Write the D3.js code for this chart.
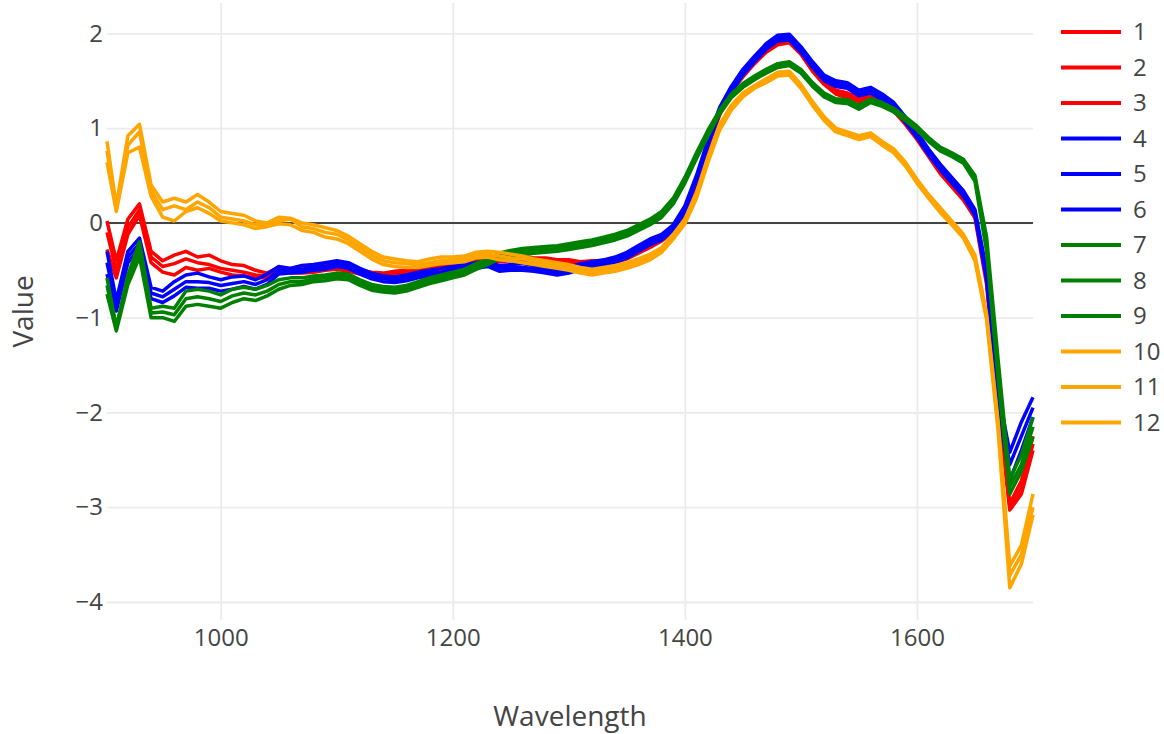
<!DOCTYPE html>
<html>
<head>
<meta charset="utf-8">
<script src="https://cdn.jsdelivr.net/npm/d3@7"></script>
<style>
body { margin: 0; background: #fff; }
text { font-family: "Open Sans", sans-serif; fill: #444; }
</style>
</head>
<body>
<svg id="drawing_region"></svg>
<script>
const wavelengths = [
    902, 910, 920, 930, 940, 950, 960, 970, 980, 990,
    1000, 1010, 1020, 1030, 1040, 1050, 1060, 1070, 1080, 1090,
    1100, 1110, 1120, 1130, 1140, 1150, 1160, 1170, 1180, 1190,
    1200, 1210, 1220, 1230, 1240, 1250, 1260, 1270, 1280, 1290,
    1300, 1310, 1320, 1330, 1340, 1350, 1360, 1370, 1380, 1390,
    1400, 1410, 1420, 1430, 1440, 1450, 1460, 1470, 1480, 1490,
    1500, 1510, 1520, 1530, 1540, 1550, 1560, 1570, 1580, 1590,
    1600, 1610, 1620, 1630, 1640, 1650, 1660, 1670, 1680, 1690,
    1700
];

const labels = ['1', '2', '3', '4', '5', '6', '7', '8', '9', '10', '11', '12'];
const xTicks = [1000, 1200, 1400, 1600];
const yTicks = [-4, -3, -2, -1, 0, 1, 2];

const s1 = [
    0.02, -0.40, 0.04, 0.20, -0.30, -0.40, -0.34, -0.30, -0.36, -0.34,
    -0.40, -0.44, -0.45, -0.50, -0.53, -0.47, -0.48, -0.46, -0.47, -0.44,
    -0.42, -0.46, -0.50, -0.52, -0.53, -0.51, -0.50, -0.47, -0.47, -0.44,
    -0.44, -0.41, -0.39, -0.36, -0.38, -0.36, -0.35, -0.37, -0.37, -0.39,
    -0.39, -0.41, -0.40, -0.40, -0.37, -0.34, -0.27, -0.22, -0.15, -0.06,
    0.08, 0.40, 0.84, 1.18, 1.42, 1.58, 1.72, 1.84, 1.92, 1.94,
    1.82, 1.64, 1.50, 1.40, 1.37, 1.32, 1.35, 1.29, 1.22, 1.07,
    0.92, 0.73, 0.57, 0.41, 0.28, 0.09, -0.55, -1.82, -2.96, -2.72,
    -2.25
];
const s2 = [
    -0.10, -0.50, -0.05, 0.14, -0.36, -0.46, -0.43, -0.38, -0.42, -0.44,
    -0.48, -0.50, -0.52, -0.55, -0.56, -0.50, -0.51, -0.49, -0.50, -0.47,
    -0.46, -0.48, -0.52, -0.54, -0.56, -0.54, -0.52, -0.50, -0.49, -0.47,
    -0.46, -0.44, -0.41, -0.39, -0.40, -0.38, -0.38, -0.39, -0.40, -0.41,
    -0.42, -0.43, -0.43, -0.42, -0.40, -0.36, -0.30, -0.24, -0.17, -0.08,
    0.06, 0.38, 0.82, 1.16, 1.40, 1.56, 1.70, 1.82, 1.90, 1.92,
    1.80, 1.62, 1.48, 1.38, 1.34, 1.30, 1.32, 1.28, 1.20, 1.06,
    0.90, 0.72, 0.54, 0.40, 0.26, 0.07, -0.60, -1.88, -3.00, -2.80,
    -2.33
];
const s3 = [
    -0.28, -0.58, -0.12, 0.08, -0.42, -0.52, -0.55, -0.47, -0.50, -0.48,
    -0.52, -0.55, -0.56, -0.58, -0.58, -0.52, -0.53, -0.53, -0.52, -0.50,
    -0.49, -0.51, -0.54, -0.56, -0.57, -0.56, -0.54, -0.52, -0.51, -0.49,
    -0.48, -0.46, -0.43, -0.41, -0.41, -0.40, -0.40, -0.41, -0.42, -0.43,
    -0.44, -0.45, -0.45, -0.44, -0.42, -0.38, -0.32, -0.26, -0.19, -0.10,
    0.04, 0.35, 0.80, 1.14, 1.38, 1.54, 1.68, 1.80, 1.88, 1.90,
    1.78, 1.60, 1.46, 1.36, 1.32, 1.28, 1.30, 1.26, 1.18, 1.04,
    0.88, 0.70, 0.52, 0.38, 0.24, 0.05, -0.65, -1.94, -3.03, -2.86,
    -2.40
];
const s4 = [
    -0.30, -0.82, -0.30, -0.16, -0.68, -0.72, -0.62, -0.55, -0.53, -0.57,
    -0.60, -0.57, -0.56, -0.60, -0.54, -0.46, -0.48, -0.45, -0.44, -0.42,
    -0.40, -0.42, -0.48, -0.53, -0.56, -0.57, -0.55, -0.52, -0.50, -0.48,
    -0.46, -0.44, -0.42, -0.40, -0.45, -0.44, -0.43, -0.45, -0.47, -0.49,
    -0.47, -0.43, -0.41, -0.39, -0.36, -0.31, -0.24, -0.17, -0.12, -0.02,
    0.18, 0.50, 0.88, 1.22, 1.44, 1.62, 1.76, 1.89, 1.98, 1.99,
    1.86, 1.70, 1.56, 1.50, 1.48, 1.40, 1.43, 1.36, 1.27, 1.12,
    0.96, 0.78, 0.62, 0.48, 0.34, 0.14, -0.50, -1.78, -2.42, -2.10,
    -1.84
];
const s5 = [
    -0.42, -0.88, -0.36, -0.22, -0.74, -0.78, -0.70, -0.62, -0.62, -0.63,
    -0.66, -0.64, -0.62, -0.65, -0.60, -0.50, -0.50, -0.49, -0.47, -0.46,
    -0.43, -0.45, -0.51, -0.56, -0.59, -0.60, -0.58, -0.55, -0.53, -0.52,
    -0.49, -0.47, -0.45, -0.43, -0.48, -0.47, -0.47, -0.48, -0.50, -0.52,
    -0.50, -0.46, -0.44, -0.42, -0.39, -0.34, -0.27, -0.20, -0.15, -0.05,
    0.15, 0.47, 0.85, 1.19, 1.41, 1.59, 1.73, 1.86, 1.95, 1.96,
    1.83, 1.67, 1.53, 1.47, 1.45, 1.37, 1.40, 1.33, 1.24, 1.09,
    0.93, 0.75, 0.59, 0.45, 0.31, 0.11, -0.55, -1.86, -2.55, -2.25,
    -1.95
];
const s6 = [
    -0.54, -0.93, -0.42, -0.27, -0.80, -0.84, -0.77, -0.68, -0.69, -0.69,
    -0.72, -0.70, -0.67, -0.70, -0.65, -0.54, -0.53, -0.52, -0.50, -0.49,
    -0.46, -0.48, -0.54, -0.59, -0.62, -0.63, -0.61, -0.58, -0.56, -0.55,
    -0.52, -0.50, -0.48, -0.46, -0.51, -0.50, -0.50, -0.51, -0.53, -0.55,
    -0.53, -0.49, -0.47, -0.45, -0.42, -0.37, -0.30, -0.23, -0.18, -0.08,
    0.12, 0.44, 0.82, 1.16, 1.38, 1.56, 1.70, 1.83, 1.92, 1.93,
    1.80, 1.64, 1.50, 1.44, 1.42, 1.34, 1.37, 1.30, 1.21, 1.06,
    0.90, 0.72, 0.56, 0.42, 0.28, 0.08, -0.60, -1.94, -2.72, -2.40,
    -2.05
];
const s7 = [
    -0.58, -1.10, -0.55, -0.20, -0.90, -0.88, -0.90, -0.72, -0.70, -0.72,
    -0.76, -0.70, -0.68, -0.70, -0.66, -0.60, -0.58, -0.58, -0.56, -0.55,
    -0.53, -0.54, -0.60, -0.65, -0.67, -0.68, -0.66, -0.62, -0.58, -0.55,
    -0.52, -0.49, -0.43, -0.38, -0.32, -0.29, -0.27, -0.26, -0.25, -0.24,
    -0.22, -0.20, -0.18, -0.15, -0.12, -0.08, -0.02, 0.04, 0.12, 0.26,
    0.48, 0.74, 0.98, 1.19, 1.36, 1.47, 1.55, 1.62, 1.68, 1.70,
    1.62, 1.48, 1.37, 1.31, 1.30, 1.24, 1.31, 1.27, 1.21, 1.12,
    1.02, 0.90, 0.80, 0.74, 0.67, 0.50, -0.15, -1.45, -2.70, -2.45,
    -2.05
];
const s8 = [
    -0.66, -1.12, -0.60, -0.28, -0.95, -0.94, -0.97, -0.80, -0.78, -0.80,
    -0.83, -0.77, -0.74, -0.76, -0.72, -0.65, -0.62, -0.62, -0.59, -0.58,
    -0.56, -0.57, -0.63, -0.68, -0.70, -0.71, -0.69, -0.65, -0.61, -0.58,
    -0.55, -0.52, -0.46, -0.41, -0.35, -0.32, -0.30, -0.29, -0.28, -0.27,
    -0.25, -0.23, -0.21, -0.18, -0.15, -0.11, -0.05, 0.01, 0.09, 0.23,
    0.45, 0.71, 0.95, 1.17, 1.34, 1.45, 1.53, 1.60, 1.66, 1.68,
    1.60, 1.46, 1.35, 1.29, 1.28, 1.22, 1.29, 1.25, 1.19, 1.10,
    1.00, 0.88, 0.78, 0.72, 0.65, 0.47, -0.22, -1.55, -2.78, -2.55,
    -2.15
];
const s9 = [
    -0.75, -1.14, -0.65, -0.36, -1.00, -1.00, -1.04, -0.88, -0.86, -0.88,
    -0.90, -0.84, -0.80, -0.82, -0.77, -0.70, -0.66, -0.65, -0.62, -0.61,
    -0.59, -0.60, -0.66, -0.71, -0.73, -0.74, -0.72, -0.68, -0.64, -0.61,
    -0.58, -0.55, -0.49, -0.44, -0.38, -0.35, -0.33, -0.32, -0.31, -0.30,
    -0.28, -0.26, -0.24, -0.21, -0.18, -0.14, -0.08, -0.02, 0.06, 0.20,
    0.42, 0.68, 0.92, 1.15, 1.32, 1.43, 1.51, 1.58, 1.64, 1.66,
    1.58, 1.44, 1.33, 1.27, 1.26, 1.20, 1.27, 1.23, 1.17, 1.08,
    0.98, 0.86, 0.76, 0.70, 0.63, 0.44, -0.30, -1.65, -2.86, -2.62,
    -2.26
];
const s10 = [
    0.86, 0.18, 0.92, 1.04, 0.40, 0.22, 0.26, 0.22, 0.30, 0.22,
    0.12, 0.10, 0.08, 0.02, 0.00, 0.06, 0.05, 0.00, -0.02, -0.05,
    -0.08, -0.14, -0.22, -0.30, -0.36, -0.38, -0.40, -0.41, -0.38, -0.36,
    -0.36, -0.35, -0.31, -0.30, -0.31, -0.33, -0.35, -0.38, -0.40, -0.42,
    -0.44, -0.47, -0.49, -0.47, -0.45, -0.42, -0.38, -0.33, -0.26, -0.12,
    0.04, 0.32, 0.70, 1.04, 1.24, 1.37, 1.45, 1.52, 1.59, 1.60,
    1.46, 1.28, 1.12, 1.00, 0.96, 0.92, 0.95, 0.86, 0.78, 0.64,
    0.46, 0.30, 0.16, 0.02, -0.12, -0.34, -0.96, -2.10, -3.62, -3.40,
    -2.86
];
const s11 = [
    0.76, 0.14, 0.82, 0.96, 0.34, 0.14, 0.18, 0.14, 0.22, 0.16,
    0.06, 0.04, 0.02, -0.02, -0.02, 0.02, 0.04, -0.04, -0.06, -0.10,
    -0.12, -0.18, -0.26, -0.34, -0.40, -0.42, -0.43, -0.44, -0.42, -0.40,
    -0.39, -0.38, -0.34, -0.33, -0.35, -0.37, -0.38, -0.41, -0.43, -0.45,
    -0.47, -0.50, -0.52, -0.50, -0.48, -0.45, -0.41, -0.36, -0.28, -0.14,
    0.02, 0.30, 0.68, 1.02, 1.22, 1.35, 1.44, 1.50, 1.57, 1.58,
    1.44, 1.26, 1.10, 0.98, 0.94, 0.90, 0.93, 0.84, 0.76, 0.62,
    0.44, 0.28, 0.13, 0.00, -0.14, -0.37, -0.99, -2.15, -3.72, -3.50,
    -3.00
];
const s12 = [
    0.64, 0.12, 0.74, 0.80, 0.28, 0.06, 0.02, 0.12, 0.16, 0.10,
    0.02, 0.00, -0.02, -0.06, -0.04, -0.01, -0.02, -0.08, -0.10, -0.15,
    -0.17, -0.22, -0.30, -0.38, -0.44, -0.46, -0.47, -0.47, -0.45, -0.43,
    -0.42, -0.41, -0.37, -0.36, -0.39, -0.40, -0.42, -0.44, -0.46, -0.48,
    -0.50, -0.53, -0.55, -0.53, -0.51, -0.48, -0.44, -0.39, -0.31, -0.17,
    -0.01, 0.26, 0.64, 0.98, 1.19, 1.33, 1.42, 1.48, 1.55, 1.56,
    1.42, 1.24, 1.08, 0.96, 0.92, 0.88, 0.91, 0.82, 0.74, 0.60,
    0.42, 0.26, 0.11, -0.02, -0.16, -0.40, -1.02, -2.20, -3.85, -3.60,
    -3.08
];

const series = [s1, s2, s3, s4, s5, s6, s7, s8, s9, s10, s11, s12];

class LineChart {
    constructor(config, data) {
        this.config = {
            parent: config.parent,
            width: config.width || 1164,
            height: config.height || 734,
            margin: config.margin || {top:3, right:131, bottom:114, left:107},
            colors: config.colors
        }
        this.data = data;
        this.init();
    }
    init() {
        let self = this;

        self.svg = d3.select(self.config.parent)
            .attr('width', self.config.width)
            .attr('height', self.config.height);

        self.inner_width = self.config.width - self.config.margin.left - self.config.margin.right;
        self.inner_height = self.config.height - self.config.margin.top - self.config.margin.bottom;

        self.chart = self.svg.append('g')
            .attr('transform', `translate(${self.config.margin.left}, ${self.config.margin.top})`);

        self.xscale = d3.scaleLinear()
            .range([0, self.inner_width]);

        self.yscale = d3.scaleLinear()
            .range([self.inner_height, 0]);

        self.xgrid_group = self.chart.append('g')
            .attr('transform', `translate(0, ${self.inner_height})`);
        self.ygrid_group = self.chart.append('g');
        self.zero_line = self.chart.append('line');
        self.lines_group = self.chart.append('g');

        self.xaxis_group = self.chart.append('g')
            .attr('transform', `translate(0, ${self.inner_height})`);
        self.yaxis_group = self.chart.append('g');

        self.svg.append('text')
            .attr('x', self.config.margin.left + self.inner_width / 2)
            .attr('y', 726)
            .attr('text-anchor', 'middle')
            .style('font-size', '28px')
            .text('Wavelength');

        self.svg.append('text')
            .attr('transform', `translate(33, ${self.config.margin.top + self.inner_height / 2}) rotate(-90)`)
            .attr('text-anchor', 'middle')
            .style('font-size', '28px')
            .text('Value');

        self.legend = self.svg.append('g')
            .attr('transform', 'translate(1061, 32)');
    }
    update() {
        let self = this;

        self.xscale.domain(d3.extent(wavelengths));
        self.yscale.domain([-4.19, 2.32]);

        self.render();
    }
    render() {
        let self = this;

        self.xgrid_group
            .call(d3.axisBottom(self.xscale).tickValues(xTicks).tickSize(-self.inner_height).tickFormat(''))
            .call(g => g.select('.domain').remove())
            .call(g => g.selectAll('line').attr('stroke', '#ebebeb').attr('stroke-width', 1.8));

        self.ygrid_group
            .call(d3.axisLeft(self.yscale).tickValues(yTicks).tickSize(-self.inner_width).tickFormat(''))
            .call(g => g.select('.domain').remove())
            .call(g => g.selectAll('line').attr('stroke', '#ebebeb').attr('stroke-width', 1.8));

        self.zero_line
            .attr('x1', 0)
            .attr('x2', self.inner_width)
            .attr('y1', self.yscale(0))
            .attr('y2', self.yscale(0))
            .attr('stroke', '#444')
            .attr('stroke-width', 2);

        const line = d3.line()
            .x((d, i) => self.xscale(wavelengths[i]))
            .y(d => self.yscale(d));

        self.lines_group.selectAll('path')
            .data(self.data)
            .enter()
            .append('path')
            .attr('d', d => line(d))
            .attr('fill', 'none')
            .attr('stroke', (d, i) => self.config.colors[i])
            .attr('stroke-width', 3.5)
            .attr('stroke-linejoin', 'round');

        self.xaxis_group
            .call(d3.axisBottom(self.xscale).tickValues(xTicks).tickSize(0).tickPadding(9).tickFormat(d3.format('')))
            .call(g => g.select('.domain').remove())
            .call(g => g.selectAll('text').style('font-size', '24px').attr('fill', '#444'));

        self.yaxis_group
            .call(d3.axisLeft(self.yscale).tickValues(yTicks).tickSize(0).tickPadding(4).tickFormat(d3.format('')))
            .call(g => g.select('.domain').remove())
            .call(g => g.selectAll('text').style('font-size', '24px').attr('fill', '#444'));

        const items = self.legend.selectAll('g')
            .data(labels)
            .enter()
            .append('g')
            .attr('transform', (d, i) => `translate(0, ${i * 35.5})`);

        items.append('line')
            .attr('x1', 0)
            .attr('x2', 60)
            .attr('stroke', (d, i) => self.config.colors[i])
            .attr('stroke-width', 4);

        items.append('text')
            .attr('x', 72)
            .attr('dy', '0.35em')
            .style('font-size', '24px')
            .text(d => d);
    }
}

var config = {
    parent: '#drawing_region',
    width: 1164,
    height: 734,
    margin: {top:3, right:131, bottom:114, left:107},
    colors: ['red', 'red', 'red', 'blue', 'blue', 'blue', 'green', 'green', 'green', 'orange', 'orange', 'orange']
};

const line_chart = new LineChart(config, series);
line_chart.update();
</script>
</body>
</html>
